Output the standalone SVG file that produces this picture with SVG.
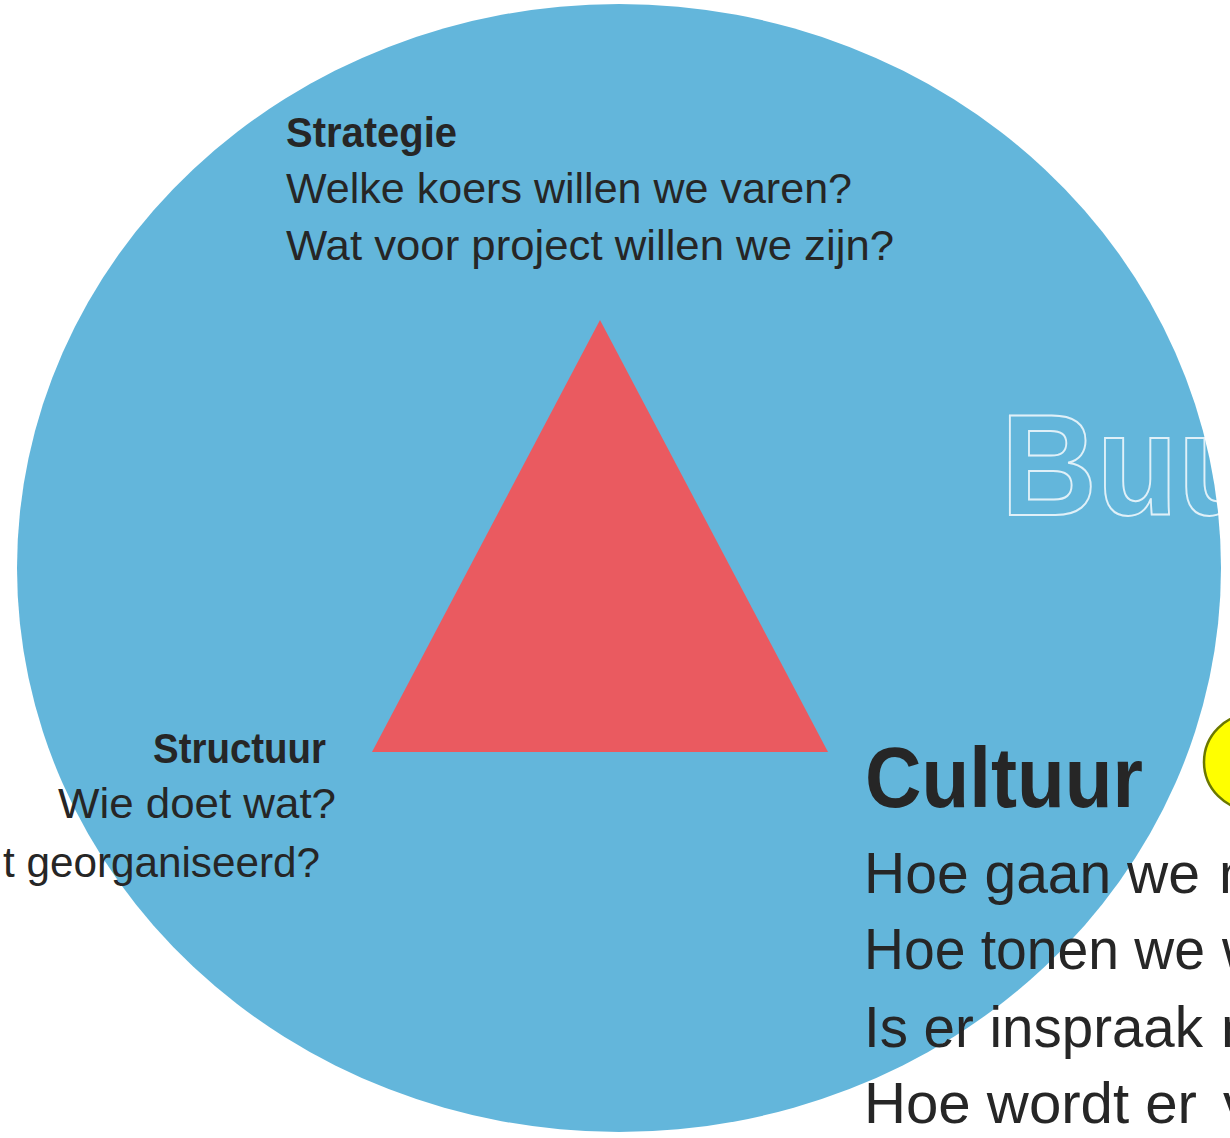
<svg xmlns="http://www.w3.org/2000/svg" width="1230" height="1138" viewBox="0 0 1230 1138">
<style>
.t{font-family:"Liberation Sans",Arial,sans-serif;fill:#262626;}
.b{font-weight:bold;}
.s{font-size:42px;}
.c{font-size:57px;}
.big{font-size:86px;}
.out{font-family:"Liberation Sans",Arial,sans-serif;font-weight:bold;font-size:145px;fill:none;stroke:#ffffff;stroke-opacity:0.8;stroke-width:2;}
</style>
<rect width="1230" height="1138" fill="#ffffff"/>
<g id="circle">
<ellipse cx="619" cy="568" rx="602" ry="564" fill="#63b6db"/>
</g>
<g id="watermark">
<text class="out" x="1001" y="515" textLength="258" lengthAdjust="spacingAndGlyphs">Buu</text>
</g>
<g id="triangle">
<polygon points="600,320 372,752 828,752" fill="#ea5a60"/>
</g>
<g id="yellow">
<circle cx="1252" cy="762" r="48" fill="#ffff00" stroke="#6b7800" stroke-width="2.5"/>
</g>
<g id="strategie">
<text class="t b s" x="286" y="147" textLength="171" lengthAdjust="spacingAndGlyphs">Strategie</text>
<text class="t s" x="286" y="203" textLength="566" lengthAdjust="spacingAndGlyphs">Welke koers willen we varen?</text>
<text class="t s" x="286" y="260" textLength="608" lengthAdjust="spacingAndGlyphs">Wat voor project willen we zijn?</text>
</g>
<g id="structuur">
<text class="t b s" x="326" y="763" text-anchor="end" textLength="173" lengthAdjust="spacingAndGlyphs">Structuur</text>
<text class="t s" x="336" y="818" text-anchor="end" textLength="278" lengthAdjust="spacingAndGlyphs">Wie doet wat?</text>
<text class="t s" x="320" y="877" text-anchor="end" textLength="317" lengthAdjust="spacingAndGlyphs">t georganiseerd?</text>
</g>
<g id="cultuur">
<text class="t b big" x="865" y="807" textLength="278" lengthAdjust="spacingAndGlyphs">Cultuur</text>
<text class="t c" y="893"><tspan x="864" textLength="336" lengthAdjust="spacingAndGlyphs">Hoe gaan we</tspan><tspan x="1219">m</tspan></text>
<text class="t c" y="969"><tspan x="864" textLength="341" lengthAdjust="spacingAndGlyphs">Hoe tonen we</tspan><tspan x="1222">w</tspan></text>
<text class="t c" y="1047"><tspan x="864" textLength="339" lengthAdjust="spacingAndGlyphs">Is er inspraak</tspan><tspan x="1221">m</tspan></text>
<text class="t c" y="1123"><tspan x="864" textLength="333" lengthAdjust="spacingAndGlyphs">Hoe wordt er</tspan><tspan x="1223">v</tspan></text>
</g>
</svg>
